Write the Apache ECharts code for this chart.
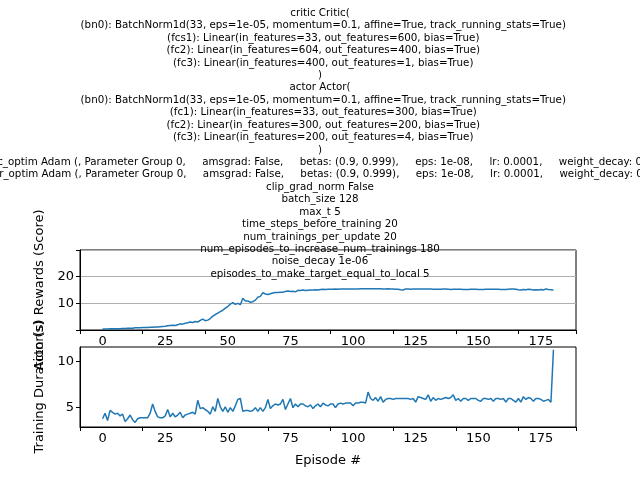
<!DOCTYPE html>
<html>
<head>
<meta charset="utf-8">
<script src="https://cdn.jsdelivr.net/npm/echarts@6/dist/echarts.min.js"></script>
<style>html,body{margin:0;padding:0;background:#fff}#main{width:640px;height:480px}</style>
</head>
<body>
<div id="main"></div>
<script>
// hyper-parameter text shown above the plots
var titleLines = [
  'critic Critic(',
  '  (bn0): BatchNorm1d(33, eps=1e-05, momentum=0.1, affine=True, track_running_stats=True)',
  '  (fcs1): Linear(in_features=33, out_features=600, bias=True)',
  '  (fc2): Linear(in_features=604, out_features=400, bias=True)',
  '  (fc3): Linear(in_features=400, out_features=1, bias=True)',
  ')',
  'actor Actor(',
  '  (bn0): BatchNorm1d(33, eps=1e-05, momentum=0.1, affine=True, track_running_stats=True)',
  '  (fc1): Linear(in_features=33, out_features=300, bias=True)',
  '  (fc2): Linear(in_features=300, out_features=200, bias=True)',
  '  (fc3): Linear(in_features=200, out_features=4, bias=True)',
  ')',
  'critic_optim Adam (, Parameter Group 0,     amsgrad: False,     betas: (0.9, 0.999),     eps: 1e-08,     lr: 0.0001,     weight_decay: 0.0, )',
  'actor_optim Adam (, Parameter Group 0,     amsgrad: False,     betas: (0.9, 0.999),     eps: 1e-08,     lr: 0.0001,     weight_decay: 0.0, )',
  'clip_grad_norm False',
  'batch_size 128',
  'max_t 5',
  'time_steps_before_training 20',
  'num_trainings_per_update 20',
  'num_episodes_to_increase_num_trainings 180',
  'noise_decay 1e-06',
  'episodes_to_make_target_equal_to_local 5'
];

var rewards = [
  0.4,0.4,0.4,0.5,0.5,0.5,0.5,0.5,0.6,0.6, 0.7,0.7,0.7,0.8,0.8,0.8,0.9,0.9,0.9,1.0,
  1.0,1.1,1.1,1.2,1.3,1.4,1.6,1.7,1.8,1.7, 2.0,2.3,2.2,2.5,2.7,3.0,2.8,3.2,3.0,3.6,
  4.1,3.5,3.7,4.3,5.2,5.8,6.3,6.9,7.4,8.2, 8.8,9.7,10.3,9.6,10.0,9.5,11.9,10.9,10.9,10.4,
  10.6,11.2,12.3,12.6,14.0,13.5,13.3,13.6,13.9,14.1, 14.1,14.2,14.2,14.4,14.6,14.4,14.5,14.3,14.9,14.8,
  15.0,14.8,14.9,15.0,15.0,15.1,15.0,15.2,15.3,15.2, 15.3,15.3,15.3,15.4,15.3,15.4,15.4,15.4,15.4,15.4,
  15.4,15.4,15.4,15.5,15.5,15.5,15.5,15.5,15.5,15.5, 15.5,15.5,15.4,15.4,15.5,15.4,15.4,15.3,15.3,15.1,
  15.0,15.4,15.4,15.3,15.4,15.4,15.4,15.4,15.4,15.4, 15.4,15.4,15.3,15.3,15.3,15.3,15.4,15.4,15.3,15.2,
  15.3,15.3,15.3,15.3,15.2,15.2,15.2,15.3,15.3,15.3, 15.2,15.2,15.2,15.3,15.3,15.3,15.3,15.3,15.3,15.2,
  15.2,15.2,15.3,15.4,15.4,15.3,15.1,15.0,15.2,15.1, 15.3,15.2,15.0,15.1,15.0,15.2,15.0,15.4,15.2,15.1,
  15.0
];

var durations = [
  3.8,4.4,3.6,4.7,4.5,4.3,4.4,4.1,4.3,3.5, 3.8,4.2,3.7,3.4,3.8,3.9,3.9,3.9,3.9,4.4,
  5.4,4.6,4.0,3.9,3.9,4.1,4.8,4.0,4.4,4.0, 4.2,4.5,3.9,4.2,4.3,4.4,4.5,4.3,5.8,4.9,
  5.0,4.8,4.6,4.3,5.1,4.6,6.0,5.1,4.6,5.1, 4.5,5.0,4.6,5.2,5.9,6.0,4.6,4.7,4.7,4.6,
  4.7,5.0,4.6,5.0,4.6,5.0,5.9,4.9,5.2,5.4, 5.3,5.4,5.9,4.8,5.4,6.0,5.0,5.4,5.1,5.4,
  5.4,5.2,5.1,5.3,4.9,5.2,5.4,5.1,5.5,5.3, 5.2,5.4,5.4,5.0,5.4,5.5,5.4,5.5,5.5,5.5,
  5.2,5.5,5.5,5.6,5.6,5.5,6.7,6.0,5.8,6.1, 5.7,6.2,5.6,5.9,6.0,6.0,5.9,6.0,6.0,6.0,
  6.0,6.0,6.0,5.9,6.0,5.6,6.2,6.1,6.0,5.9, 6.4,5.7,6.1,5.8,6.0,5.9,6.0,6.1,6.0,6.1,
  6.4,5.8,6.0,5.7,6.0,6.0,5.8,6.0,6.0,6.0, 5.8,5.7,6.0,6.0,5.9,6.0,5.7,6.0,6.0,5.9,
  6.0,5.6,6.0,6.0,5.8,5.6,6.0,5.6,6.2,5.9, 6.1,6.0,5.7,6.0,6.0,5.9,5.7,5.8,5.9,5.6,
  11.3
];

var episodes = rewards.map(function (v, i) { return i; });
var font = 'DejaVu Sans';
var blue = '#1f77b4';

function xAxis(idx, showName) {
  return {
    type: 'value', gridIndex: idx, min: -9, max: 189, interval: 25,
    name: showName ? 'Episode #' : '', nameLocation: 'middle', nameGap: 27,
    nameTextStyle: { fontFamily: font, fontSize: 13, color: '#000' },
    axisLine: { onZero: false, lineStyle: { color: '#000' } },
    axisTick: { show: true, length: 4, lineStyle: { color: '#000' } },
    axisLabel: {
      fontFamily: font, fontSize: 13, color: '#000', margin: 5,
      customValues: [0, 25, 50, 75, 100, 125, 150, 175]
    },
    splitLine: { show: false }
  };
}

var chart = echarts.init(document.getElementById('main'), null, { renderer: 'canvas' });
chart.setOption({
  animation: false,
  backgroundColor: '#fff',
  graphic: [{
    type: 'text', z: 10,
    style: {
      x: 320, y: 7, text: titleLines.join('\n'), fontFamily: font, fontSize: 10.3,
      lineHeight: 12.43, fill: '#000', align: 'center', verticalAlign: 'top'
    }
  }],
  grid: [
    { left: 80, right: 64, top: 250, height: 80, show: true, borderColor: '#000', borderWidth: 1 },
    { left: 80, right: 64, top: 347, height: 80, show: true, borderColor: '#000', borderWidth: 1 }
  ],
  xAxis: [xAxis(0, false), xAxis(1, true)],
  yAxis: [
    {
      type: 'value', gridIndex: 0, min: 0, max: 30, interval: 10,
      name: 'Actor(s) Rewards (Score)', nameLocation: 'middle', nameGap: 34,
      nameTextStyle: { fontFamily: font, fontSize: 13, color: '#000' },
      axisLine: { show: true, onZero: false, lineStyle: { color: '#000' } },
      axisTick: { show: true, length: 4, lineStyle: { color: '#000' } },
      axisLabel: {
        fontFamily: font, fontSize: 13, color: '#000', margin: 6,
        formatter: function (v) { return (v === 10 || v === 20) ? String(v) : ''; }
      },
      splitLine: { show: true, lineStyle: { color: '#b0b0b0', width: 1 } }
    },
    {
      type: 'value', gridIndex: 1, min: 2.9, max: 11.6,
      name: 'Training Duration (s)', nameLocation: 'middle', nameGap: 34,
      nameTextStyle: { fontFamily: font, fontSize: 13, color: '#000' },
      axisLine: { show: true, onZero: false, lineStyle: { color: '#000' } },
      axisTick: { show: true, length: 4, customValues: [5, 10], lineStyle: { color: '#000' } },
      axisLabel: { fontFamily: font, fontSize: 13, color: '#000', margin: 6, customValues: [5, 10] },
      splitLine: { show: false }
    }
  ],
  series: [
    {
      type: 'line', xAxisIndex: 0, yAxisIndex: 0, showSymbol: false,
      data: episodes.map(function (e, i) { return [e, rewards[i]]; }),
      lineStyle: { color: blue, width: 1.5 }
    },
    {
      type: 'line', xAxisIndex: 1, yAxisIndex: 1, showSymbol: false,
      data: episodes.map(function (e, i) { return [e, durations[i]]; }),
      lineStyle: { color: blue, width: 1.5 }
    }
  ]
});
</script>
</body>
</html>
